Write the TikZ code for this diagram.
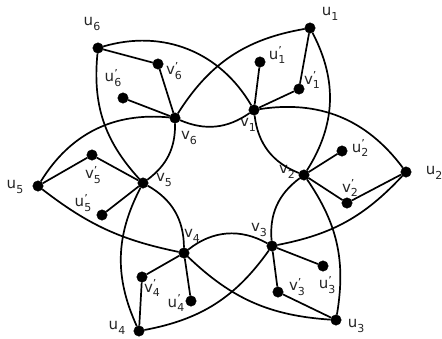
\documentclass[tikz,border=0pt]{standalone}
\usepackage{fontspec}
\setmainfont{DejaVu Sans}
\newcommand{\ulab}[2]{#1\raisebox{-0.55ex}{\fontsize{11}{11}\selectfont #2}}
\newcommand{\plab}[2]{#1\raisebox{-0.55ex}{\fontsize{11}{11}\selectfont\rlap{\raisebox{1.5ex}{'}}#2}}
\tikzset{
  dot/.style={circle,fill=black,draw=black,inner sep=0pt,minimum size=10.5pt},
  edge/.style={line width=1.7pt,black},
  lab/.style={font=\fontsize{15}{15}\selectfont,inner sep=0pt,text=black!85}
}
\begin{document}
\begin{tikzpicture}[x=1pt,y=-1pt]
\useasboundingbox[fill=white] (0,0) rectangle (442,338);
% inner vertices
\node[dot,label={[lab,shift={(-6,15)}]center:\ulab{v}{1}}] (v1) at (254,110) {};
\node[dot,label={[lab,shift={(-17,-3)}]center:\ulab{v}{2}}] (v2) at (304,175) {};
\node[dot,label={[lab,shift={(-13,-16)}]center:\ulab{v}{3}}] (v3) at (272,246) {};
\node[dot,label={[lab,shift={(8,-17)}]center:\ulab{v}{4}}] (v4) at (184,253) {};
\node[dot,label={[lab,shift={(21,-3)}]center:\ulab{v}{5}}] (v5) at (143,183) {};
\node[dot,label={[lab,shift={(14,20)}]center:\ulab{v}{6}}] (v6) at (175,118) {};
% outer vertices
\node[dot,label={[lab,shift={(20,-14)}]center:\ulab{u}{1}}] (u1) at (310,28) {};
\node[dot,label={[lab,shift={(28,1)}]center:\ulab{u}{2}}] (u2) at (406,172) {};
\node[dot,label={[lab,shift={(20,6)}]center:\ulab{u}{3}}] (u3) at (336,320) {};
\node[dot,label={[lab,shift={(-22,-3)}]center:\ulab{u}{4}}] (u4) at (139,331) {};
\node[dot,label={[lab,shift={(-23,1)}]center:\ulab{u}{5}}] (u5) at (38,186) {};
\node[dot,label={[lab,shift={(-6,-24)}]center:\ulab{u}{6}}] (u6) at (98,48) {};
% pendant vertices
\node[dot,label={[lab,shift={(13,-9)}]center:\plab{v}{1}}] (w1) at (299,89) {};
\node[dot,label={[lab,shift={(17,-7)}]center:\plab{u}{1}}] (p1) at (260,62) {};
\node[dot,label={[lab,shift={(3,-15)}]center:\plab{v}{2}}] (w2) at (347,203) {};
\node[dot,label={[lab,shift={(18,-3)}]center:\plab{u}{2}}] (p2) at (342,151) {};
\node[dot,label={[lab,shift={(19,-5)}]center:\plab{v}{3}}] (w3) at (278,292) {};
\node[dot,label={[lab,shift={(4,19)}]center:\plab{u}{3}}] (p3) at (323,266) {};
\node[dot,label={[lab,shift={(10,11)}]center:\plab{v}{4}}] (w4) at (142,277) {};
\node[dot,label={[lab,shift={(-15,2)}]center:\plab{u}{4}}] (p4) at (191,301) {};
\node[dot,label={[lab,shift={(1,20)}]center:\plab{v}{5}}] (w5) at (92,155) {};
\node[dot,label={[lab,shift={(-19,-12)}]center:\plab{u}{5}}] (p5) at (102,215) {};
\node[dot,label={[lab,shift={(16,7)}]center:\plab{v}{6}}] (w6) at (158,64) {};
\node[dot,label={[lab,shift={(-10,-20)}]center:\plab{u}{6}}] (p6) at (123,98) {};
% inner cycle
\draw[edge] (v1) to[bend right=31] (v2);
\draw[edge] (v2) to[bend right=29] (v3);
\draw[edge] (v3) to[bend right=34] (v4);
\draw[edge] (v4) to[bend right=30] (v5);
\draw[edge] (v5) to[bend right=27] (v6);
\draw[edge] (v6) to[bend right=29] (v1);
% petals
\draw[edge] (u1) to[bend left=30] (v2);
\draw[edge] (u1) to[bend right=24] (v6);
\draw[edge] (u2) to[bend right=31] (v1);
\draw[edge] (u2) to[bend left=18] (v3);
\draw[edge] (u3) to[bend right=22] (v2);
\draw[edge] (u3) to[bend left=20] (v4);
\draw[edge] (u4) to[bend right=22] (v3);
\draw[edge] (u4) to[bend left=26] (v5);
\draw[edge] (u5) to[bend right=13] (v4);
\draw[edge] (u5) to[bend left=32] (v6);
\draw[edge] (u6) to[bend right=24] (v5);
\draw[edge] (u6) to[bend left=38] (v1);
% straight edges
\foreach \i in {1,...,6}{
  \draw[edge] (u\i) -- (w\i);
  \draw[edge] (w\i) -- (v\i);
  \draw[edge] (p\i) -- (v\i);
}
\end{tikzpicture}
\end{document}
